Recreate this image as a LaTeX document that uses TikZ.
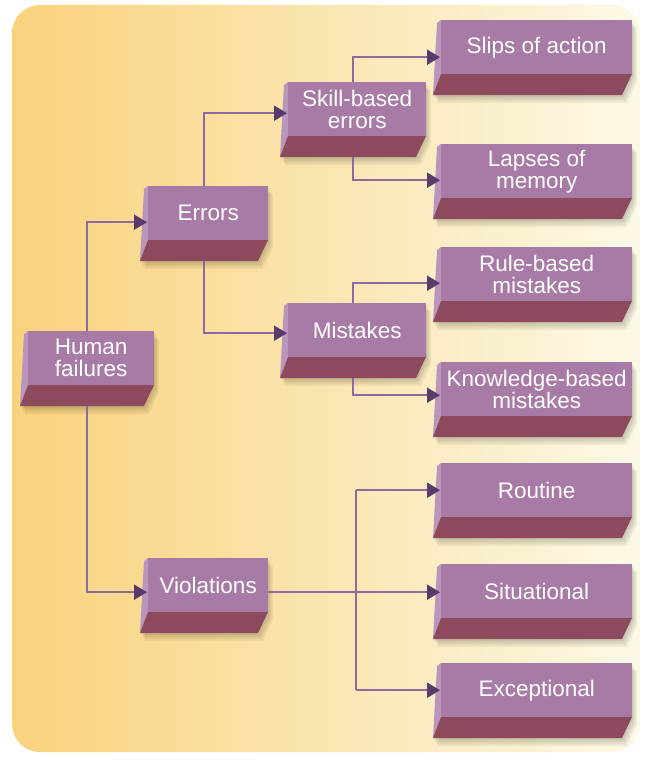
\documentclass[tikz,border=0pt]{standalone}
\usepackage{fontspec}
\setmainfont{Liberation Sans}
\usetikzlibrary{arrows.meta,calc}
\definecolor{boxface}{RGB}{168,122,166}
\definecolor{boxside}{RGB}{186,150,188}
\definecolor{boxbase}{RGB}{140,74,92}
\definecolor{linkcol}{RGB}{142,106,160}
\definecolor{tipcol}{RGB}{90,58,106}
\definecolor{bgleft}{RGB}{249,210,124}
\definecolor{bgmid}{RGB}{250,234,172}
\definecolor{bgright}{RGB}{252,249,230}
\tikzset{
  boxtext/.style={text=white, font=\fontsize{22.5}{22}\selectfont, align=center, inner sep=0pt},
  boxnode/.style={inner sep=0pt, minimum height=54pt},
  link/.style={draw=linkcol, line width=2pt},
  arrowlink/.style={link, -{Triangle[length=13pt,width=15pt,color=tipcol]}},
}
\def\failbox(#1)(#2,#3,#4)#5{
  \foreach \s in {2,4,6,8}
    \fill[black, opacity=0.05] (#2+4+\s*0.6,#3+\s) -- (#4+\s*0.6,#3+\s) -- (#4+\s*0.6,#3+54+\s) -- (#4-10+\s*0.6,#3+75+\s) -- (#2+\s*0.6,#3+75+\s) -- cycle;
  \fill[boxface] (#2+8,#3) rectangle (#4,#3+54);
  \fill[boxside] (#2+8,#3) -- (#2+8,#3+54) -- (#2,#3+75) -- (#2+4,#3+3) -- cycle;
  \fill[boxbase] (#2+8,#3+54) -- (#4,#3+54) -- (#4-10,#3+75) -- (#2,#3+75) -- cycle;
  \node[boxnode, anchor=north west, minimum width={(#4-#2)*1pt},
    label={[boxtext, xshift=4pt]center:#5}] (#1) at (#2,#3) {};
}

\begin{document}
\begin{tikzpicture}[x=1pt,y=-1pt]
  %%%%% START %%%%%

  \useasboundingbox (0,0) rectangle (646,760);
  \shade[left color=bgleft, middle color=bgmid, right color=bgright, rounded corners=28pt] (12,5) rectangle (640,752);

  \failbox(hf)(20,331,154){Human\\failures}

  \failbox(err)(140,186,268){Errors}
  \failbox(vio)(140,558,268){Violations}

  \failbox(skl)(280,82,426){Skill-based\\errors}
  \failbox(mis)(280,303,426){Mistakes}

  \failbox(slp)(433,20,632){Slips of action}
  \failbox(lap)(433,144,632){Lapses of\\memory}
  \failbox(rul)(433,247,632){Rule-based\\mistakes}
  \failbox(kno)(433,362,632){Knowledge-based\\mistakes}

  \failbox(rou)(433,463,632){Routine}
  \failbox(sit)(433,564,632){Situational}
  \failbox(exc)(433,663,632){Exceptional}

  % human failures
  \draw[arrowlink] (hf.north) |- ([xshift=7pt,yshift=-9pt]err.west);
  \draw[arrowlink] ([yshift=-21pt]hf.south) |- ([xshift=7pt,yshift=-7pt]vio.west);

  % errors
  \draw[arrowlink] (err.north) |- ([xshift=7pt,yshift=-4pt]skl.west);
  \draw[arrowlink] ([yshift=-21pt]err.south) |- ([xshift=7pt,yshift=-3pt]mis.west);

  \draw[arrowlink] (skl.north) |- ([xshift=7pt,yshift=-10pt]slp.west);
  \draw[arrowlink] ([yshift=-21pt]skl.south) |- ([xshift=7pt,yshift=-9pt]lap.west);

  \draw[arrowlink] (mis.north) |- ([xshift=7pt,yshift=-9pt]rul.west);
  \draw[arrowlink] ([yshift=-21pt]mis.south) |- ([xshift=7pt,yshift=-6pt]kno.west);

  % violations
  \coordinate (vo) at ([yshift=-7pt]vio.east);
  \coordinate (vj) at (356,0);
  \draw[arrowlink] (vo) -- ([xshift=7pt]vo -| sit.west);
  \draw[link] (vj |- rou.west) -- (vj |- exc.west);
  \draw[arrowlink] (vj |- rou.west) -- ([xshift=7pt]rou.west);
  \draw[arrowlink] (vj |- exc.west) -- ([xshift=7pt]exc.west);

  %%%%% END %%%%%
\end{tikzpicture}
\end{document}
